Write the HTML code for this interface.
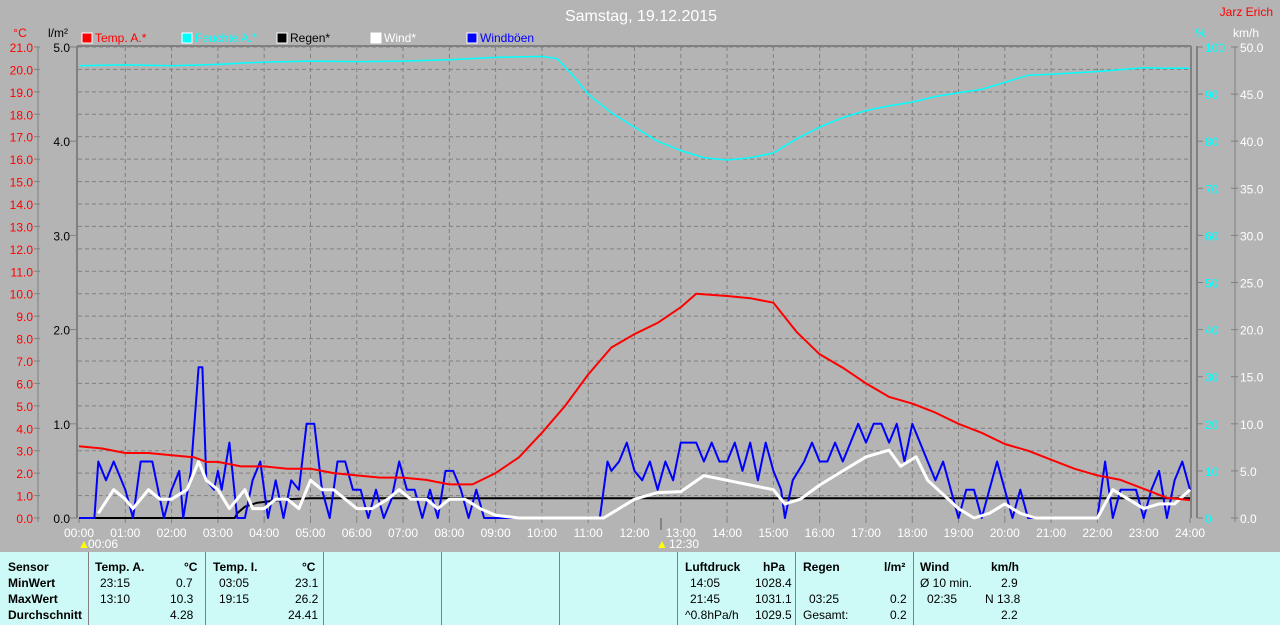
<!DOCTYPE html>
<html><head><meta charset="utf-8"><style>
body{margin:0;width:1280px;height:625px;background:#b4b4b4;font-family:"Liberation Sans",sans-serif;overflow:hidden;position:relative}
svg{position:absolute;left:0;top:0}
.tbl{position:absolute;left:0;top:552px;width:1280px;height:73px;background:#cdf9f6;font-size:12px;color:#000}
.tbl div{position:absolute;white-space:nowrap}
.b{font-weight:bold}
.v{position:absolute;top:0;width:1px;height:73px;background:#808080}
</style></head><body>
<svg id="s" width="1280" height="552" xmlns="http://www.w3.org/2000/svg" font-family="Liberation Sans, sans-serif" font-size="12"></svg>
<div class="tbl">
<div class="v" style="left:88px"></div><div class="v" style="left:205px"></div><div class="v" style="left:323px"></div><div class="v" style="left:441px"></div><div class="v" style="left:559px"></div><div class="v" style="left:677px"></div><div class="v" style="left:795px"></div><div class="v" style="left:913px"></div>
<div class="b" style="left:8px;top:8px">Sensor</div><div class="b" style="left:8px;top:24px">MinWert</div><div class="b" style="left:8px;top:40px">MaxWert</div><div class="b" style="left:8px;top:56px">Durchschnitt</div>
<div class="b" style="left:95px;top:8px">Temp. A.</div><div class="b" style="left:184px;top:8px">°C</div>
<div style="left:100px;top:24px">23:15</div><div style="left:176px;top:24px">0.7</div>
<div style="left:100px;top:40px">13:10</div><div style="left:170px;top:40px">10.3</div>
<div style="left:170px;top:56px">4.28</div>
<div class="b" style="left:213px;top:8px">Temp. I.</div><div class="b" style="left:302px;top:8px">°C</div>
<div style="left:219px;top:24px">03:05</div><div style="left:295px;top:24px">23.1</div>
<div style="left:219px;top:40px">19:15</div><div style="left:295px;top:40px">26.2</div>
<div style="left:288px;top:56px">24.41</div>
<div class="b" style="left:685px;top:8px">Luftdruck</div><div class="b" style="left:763px;top:8px">hPa</div>
<div style="left:690px;top:24px">14:05</div><div style="left:755px;top:24px">1028.4</div>
<div style="left:690px;top:40px">21:45</div><div style="left:755px;top:40px">1031.1</div>
<div style="left:685px;top:56px">^0.8hPa/h</div><div style="left:755px;top:56px">1029.5</div>
<div class="b" style="left:803px;top:8px">Regen</div><div class="b" style="left:884px;top:8px">l/m²</div>
<div style="left:809px;top:40px">03:25</div><div style="left:890px;top:40px">0.2</div>
<div style="left:803px;top:56px">Gesamt:</div><div style="left:890px;top:56px">0.2</div>
<div class="b" style="left:920px;top:8px">Wind</div><div class="b" style="left:991px;top:8px">km/h</div>
<div style="left:920px;top:24px">Ø 10 min.</div><div style="left:1001px;top:24px">2.9</div>
<div style="left:927px;top:40px">02:35</div><div style="left:985px;top:40px">N 13.8</div>
<div style="left:1001px;top:56px">2.2</div>
</div>
<script>
var s=document.getElementById('s'),h='';
var X0=79,X1=1190,Y0=518,Y1=47,H=Y0-Y1;
function x(t){return X0+(X1-X0)*t/24}
function tm(v){var p=v.split(':');return +p[0]+p[1]/60}
h+='<rect x="78" y="47" width="1112" height="471" fill="#b4b4b4"/>';
for(var i=1;i<=21;i++){var y=Y0-H*i/21;h+='<line x1="78" x2="1190" y1="'+y+'" y2="'+y+'" stroke="#808080" stroke-dasharray="4,3"/>';}
for(var i=1;i<24;i++){h+='<line x1="'+x(i)+'" x2="'+x(i)+'" y1="47" y2="518" stroke="#808080" stroke-dasharray="4,3"/>';}
h+='<line x1="77" x2="1191" y1="46" y2="46" stroke="#808080" stroke-width="2"/>';
h+='<line x1="77" x2="77" y1="46" y2="518" stroke="#808080" stroke-width="2"/>';
h+='<line x1="1191" x2="1191" y1="46" y2="518" stroke="#808080" stroke-width="2"/><line x1="1197" x2="1197" y1="46" y2="518" stroke="#808080" stroke-width="2"/>';
h+='<line x1="38" x2="38" y1="47" y2="522" stroke="#808080"/><line x1="1235" x2="1235" y1="47" y2="522" stroke="#808080"/>';
for(var i=0;i<=21;i++){var y=Y0-H*i/21;h+='<line x1="34" x2="40" y1="'+y+'" y2="'+y+'" stroke="#808080"/><text x="33" y="'+(y+5)+'" fill="#f00" text-anchor="end">'+i+'.0</text>';}
for(var i=0;i<=5;i++){var y=Y0-H*i/5;h+='<line x1="70" x2="77" y1="'+y+'" y2="'+y+'" stroke="#808080"/><text x="70" y="'+(y+5)+'" fill="#000" text-anchor="end">'+i+'.0</text>';}
for(var i=0;i<=10;i++){var y=Y0-H*i/10;h+='<line x1="1197" x2="1203" y1="'+y+'" y2="'+y+'" stroke="#808080"/><text x="1205" y="'+(y+5)+'" fill="#0ff">'+(i*10)+'</text>';}
for(var i=0;i<=10;i++){var y=Y0-H*i/10;h+='<line x1="1231" x2="1238" y1="'+y+'" y2="'+y+'" stroke="#808080"/><text x="1240" y="'+(y+5)+'" fill="#fff">'+(i*5)+'.0</text>';}
for(var i=0;i<=24;i++){var l=(i<10?'0':'')+i+':00';h+='<line x1="'+x(i)+'" x2="'+x(i)+'" y1="518" y2="523" stroke="#808080"/><text x="'+x(i)+'" y="537" fill="#fff" text-anchor="middle">'+l+'</text>';}
h+='<text x="20" y="37" fill="#f00" text-anchor="middle">°C</text><text x="58" y="37" fill="#000" text-anchor="middle">l/m²</text>';
h+='<text x="1201" y="37" fill="#0ff" text-anchor="middle">%</text><text x="1246" y="37" fill="#fff" text-anchor="middle">km/h</text>';
h+='<text x="1273" y="16" fill="#f00" text-anchor="end">Jarz Erich</text>';
h+='<text x="641" y="21" fill="#fff" font-size="16" text-anchor="middle">Samstag, 19.12.2015</text>';
var lg=[[82,'#f00','Temp. A.*'],[182,'#0ff','Feuchte A.*'],[277,'#000','Regen*'],[371,'#fff','Wind*'],[467,'#00f','Windböen']];
lg.forEach(function(a){h+='<rect x="'+a[0]+'" y="33" width="10" height="10" fill="'+a[1]+'" stroke="#fff"/><text x="'+(a[0]+13)+'" y="42" fill="'+a[1]+'">'+a[2]+'</text>';});
h+='<text x="88" y="548" fill="#fff">00:06</text><text x="78" y="548" fill="#ff0">▲</text><text x="669" y="548" fill="#fff">12:30</text><text x="656" y="548" fill="#ff0">▲</text><line x1="661" x2="661" y1="518" y2="530" stroke="#555"/>';
function path(pts,sc,col,w){var d='';pts.forEach(function(p,i){d+=(i?'L':'M')+x(tm(p[0])).toFixed(1)+','+(Y0-H*p[1]/sc).toFixed(1);});return '<path d="'+d+'" fill="none" stroke="'+col+'" stroke-width="'+w+'" stroke-linejoin="round"/>';}
function P(str){return str.trim().split(/\s+/).map(function(a){var q=a.split('=');return [q[0],+q[1]];});}
var hum=P('0:00=96 1:00=96.2 2:00=96 3:00=96.3 4:00=96.8 5:00=97 6:00=96.9 7:00=97 8:00=97.3 9:00=97.8 10:00=98 10:20=97.5 10:40=94 11:00=90 11:30=86 12:00=83 12:30=80 13:00=78 13:30=76.5 14:00=76 14:30=76.5 15:00=77.5 15:30=80.5 16:00=83 16:30=85 17:00=86.5 17:30=87.5 18:00=88.3 18:30=89.5 19:00=90.3 19:30=91 20:00=92.5 20:30=94 21:00=94.2 21:30=94.5 22:00=94.8 22:30=95.2 23:00=95.6 23:30=95.5 24:00=95.5');
var tmp=P('0:00=3.2 0:30=3.1 1:00=2.9 1:30=2.9 2:00=2.8 2:30=2.7 2:45=2.5 3:00=2.5 3:30=2.3 4:00=2.3 4:30=2.2 5:00=2.2 5:30=2.0 6:00=1.9 6:30=1.8 7:00=1.8 7:30=1.7 8:00=1.5 8:30=1.5 9:00=2.0 9:30=2.7 10:00=3.8 10:30=5.0 11:00=6.4 11:30=7.6 12:00=8.2 12:30=8.7 13:00=9.4 13:20=10.0 14:00=9.9 14:30=9.8 15:00=9.6 15:30=8.3 16:00=7.3 16:30=6.7 17:00=6.0 17:30=5.4 18:00=5.1 18:30=4.7 19:00=4.2 19:30=3.8 20:00=3.3 20:30=3.0 21:00=2.6 21:30=2.2 22:00=1.9 22:30=1.7 23:00=1.3 23:30=0.9 24:00=0.8');
var rain=P('0:00=0 3:22=0 3:25=0.05 3:35=0.12 3:50=0.16 4:10=0.18 4:30=0.2 5:00=0.21 24:00=0.21');
var gust=P('0:00=0 0:20=0 0:25=6 0:35=4 0:45=6 1:00=3 1:10=0 1:20=6 1:35=6 1:50=0 2:00=3 2:10=5 2:15=0 2:25=5 2:35=16 2:40=16 2:45=4 2:55=3 3:00=5 3:05=3 3:15=8 3:25=0 3:35=0 3:45=4 3:55=6 4:05=0 4:15=4 4:25=0 4:35=4 4:45=3 4:55=10 5:05=10 5:15=3 5:25=0 5:35=6 5:45=6 5:55=3 6:05=3 6:15=0 6:25=3 6:35=0 6:45=2 6:55=6 7:05=3 7:15=3 7:25=0 7:35=3 7:45=0 7:55=5 8:05=5 8:15=3 8:25=0 8:35=3 8:45=0 9:00=0 11:15=0 11:25=6 11:30=5 11:40=6 11:50=8 12:00=5 12:10=4 12:20=6 12:30=3 12:40=6 12:50=4 13:00=8 13:10=8 13:20=8 13:30=6 13:40=8 13:50=6 14:00=6 14:10=8 14:20=5 14:30=8 14:40=4 14:50=8 15:00=5 15:10=3 15:15=0 15:25=4 15:40=6 15:50=8 16:00=6 16:10=6 16:20=8 16:30=6 16:40=8 16:50=10 17:00=8 17:10=10 17:20=10 17:30=8 17:40=10 17:50=6 18:00=10 18:10=8 18:20=6 18:30=4 18:40=6 18:50=3 19:00=0 19:10=3 19:20=3 19:30=0 19:40=3 19:50=6 20:00=3 20:10=0 20:20=3 20:30=0 22:00=0 22:10=6 22:20=0 22:30=3 22:40=3 22:50=3 23:00=0 23:10=3 23:20=5 23:30=0 23:40=4 23:50=6 24:00=3');
var wind=P('0:25=0.5 0:45=3 1:00=2 1:10=1 1:30=3 1:45=2 2:00=2 2:20=3 2:35=6 2:45=4 3:00=3 3:15=1 3:35=3 3:45=1 4:00=1 4:15=2 4:30=2 4:45=1 5:00=4 5:15=3 5:30=3 5:45=2 6:00=1 6:20=1 6:40=2 6:55=3 7:10=2 7:30=2 7:45=1 8:00=2 8:20=2 8:40=1 9:00=0.3 9:30=0 11:20=0 11:40=1 12:00=2 12:30=2.7 13:00=2.8 13:30=4.5 14:00=4 14:30=3.5 15:00=3 15:15=1.5 15:35=2 16:00=3.5 16:30=5 17:00=6.5 17:30=7.2 17:45=5.5 18:05=6.5 18:20=4 18:40=2.5 19:00=1 19:20=0 19:40=0.5 20:00=1.5 20:20=0.5 20:40=0 22:00=0 22:20=3 22:40=2 23:00=1 23:20=1.5 23:40=1.5 24:00=3');
h+=path(hum,100,'#0ff',1.5);
h+=path(rain,5,'#000',2);
h+=path(gust,50,'#00f',2);
h+=path(wind,50,'#fff',3);
h+=path(tmp,21,'#f00',2);
s.innerHTML=h;
</script>
</body></html>
